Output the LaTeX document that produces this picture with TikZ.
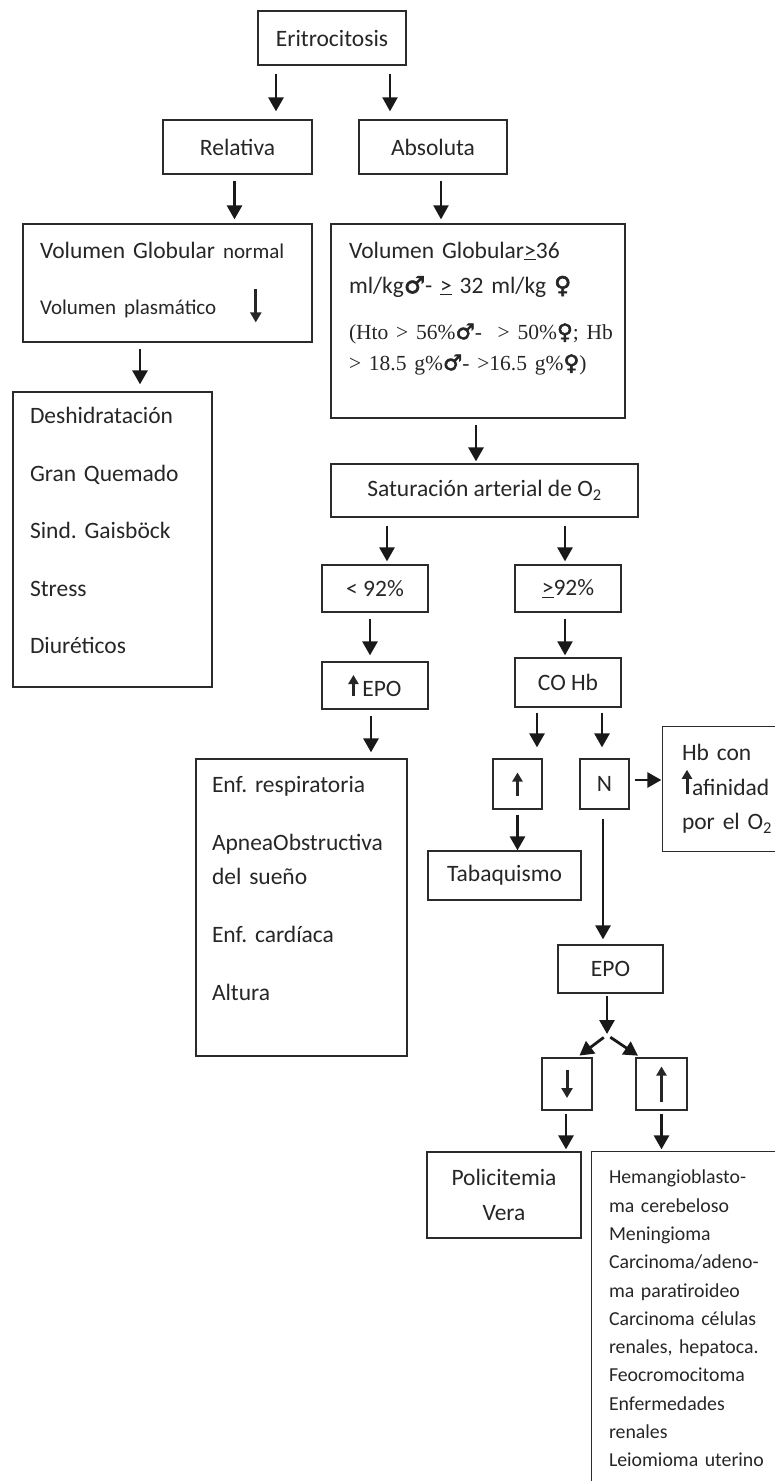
\documentclass[tikz,border=0pt]{standalone}
\usepackage{fontspec}
\setmainfont{Carlito}
\newfontfamily\serifa{Liberation Serif}
\newfontfamily\simbolos{DejaVu Sans}[FakeBold=2.5]
\usetikzlibrary{arrows.meta}
\definecolor{linea}{HTML}{2B2B2B}
\definecolor{texto}{HTML}{262626}
\frenchspacing

\newcommand{\masc}{{\simbolos\bfseries ♂}}
\newcommand{\fem}{{\simbolos\bfseries ♀}}
\newcommand{\mayorigual}{\underline{>}}
\newcommand{\flechasube}[2]{\raisebox{#2}{\tikz\draw[line width=3pt,-{Triangle[width=10pt,length=9pt]}] (0pt,0pt) -- (0pt,#1);}}
\newcommand{\flechabaja}[2]{\raisebox{#2}{\tikz\draw[line width=3pt,-{Triangle[width=11pt,length=10pt]}] (0pt,#1) -- (0pt,0pt);}}

\begin{document}
\begin{tikzpicture}[x=1pt,y=-1pt,
    caja/.style={draw=linea,line width=1.3pt,text=texto,inner sep=0pt,font=\fontsize{23.5}{28}\selectfont},
    borde/.style={draw=linea,line width=1.3pt},
    flecha/.style={draw=black!90,line width=2.8pt,-{Triangle[width=15pt,length=14pt]}}]

    \useasboundingbox (0,0) rectangle (775,1481);

    \node[caja,minimum width=148pt,minimum height=54pt] (erit) at (332,38) {Eritrocitosis};

    \node[caja,minimum width=149pt,minimum height=54pt] (rel) at (237.5,147) {Relativa};
    \node[caja,minimum width=148pt,minimum height=54pt] (abso) at (433,147) {Absoluta};

    \node[caja,minimum width=289pt,minimum height=118pt,text width=255pt,inner xsep=17pt,align=left,
        font=\fontsize{23.5}{56}\selectfont] (vgrel) at (167.5,283)
        {Volumen Globular {\fontsize{21}{21}\selectfont normal}\\{\fontsize{21}{21}\selectfont Volumen plasmático}\hspace{34pt}\flechabaja{33pt}{-9.5pt}};

    \node[caja,minimum width=294pt,minimum height=194pt,text width=258pt,inner xsep=18pt,align=left,
        font=\fontsize{23.5}{31}\selectfont] (vgabs) at (478,321)
        {\mbox{Volumen Globular\mayorigual36}\\[4pt]
         \mbox{ml/kg\masc- \mayorigual\ 32 ml/kg \fem}\\[15pt]
         {\serifa\fontsize{21.5}{31}\selectfont\mbox{(Hto > 56\%\masc-\ \ > 50\%\fem; Hb}}\\
         {\serifa\fontsize{21.5}{31}\selectfont\mbox{> 18.5 g\%\masc- >16.5 g\%\fem)}}\\[-1pt]\mbox{}};

    \node[caja,minimum width=199pt,minimum height=295pt,text width=165pt,inner xsep=17pt,align=left,
        font=\fontsize{23.5}{57.5}\selectfont] (deshi) at (112.5,539.5)
        {Deshidratación\\Gran Quemado\\Sind. Gaisböck\\Stress\\Diuréticos\\[-40pt]\mbox{}};

    \node[caja,minimum width=307pt,minimum height=53pt] (sat) at (484.5,490.5) {Saturación arterial de O\textsubscript{2}};

    \node[caja,minimum width=106pt,minimum height=47pt] (menor) at (375,588.5) {< 92\%};
    \node[caja,minimum width=106pt,minimum height=47pt] (mayor) at (568,588.5) {\mayorigual92\%};

    \node[caja,minimum width=106pt,minimum height=47pt] (epoa) at (375,685.5) {\flechasube{21pt}{-1pt}\,EPO\hspace{18pt}};
    \node[caja,minimum width=106pt,minimum height=49pt] (cohb) at (568,682.5) {CO Hb};

    \node[caja,minimum width=211pt,minimum height=297pt,text width=179pt,inner xsep=16pt,align=left,
        font=\fontsize{23.5}{34}\selectfont] (enf) at (301.5,907.5)
        {Enf. respiratoria\\[24pt]ApneaObstructiva\\del sueño\\[24pt]Enf. cardíaca\\[24pt]Altura\\[5pt]\mbox{}};

    \node[caja,minimum width=49pt,minimum height=50pt] (sube) at (517.5,784) {\flechasube{23pt}{0pt}};
    \node[caja,minimum width=49pt,minimum height=50pt] (nor) at (604.5,784) {N};

    \node[caja,draw=none,minimum width=170pt,minimum height=124pt,text width=132pt,inner xsep=19pt,align=left,
        font=\fontsize{23.5}{34.5}\selectfont] (hbaf) at (748,789)
        {Hb con\\\flechasube{24pt}{0pt}afinidad\\por el O\textsubscript{2}};
    \draw[borde] (hbaf.north east) -- (hbaf.north west) -- (hbaf.south west) -- (hbaf.south east);

    \node[caja,minimum width=153pt,minimum height=49pt] (tabaco) at (504.5,875.5) {Tabaquismo};

    \node[caja,minimum width=105pt,minimum height=48pt] (epob) at (610.5,969) {EPO};
    \coordinate (rama) at (607,1035);

    \node[caja,minimum width=50pt,minimum height=52pt] (baja) at (567,1084) {\flechabaja{28pt}{0pt}};
    \node[caja,minimum width=51pt,minimum height=52pt] (alta) at (661.5,1084) {\flechasube{35pt}{0pt}};

    \node[caja,minimum width=154pt,minimum height=86pt,align=center,
        font=\fontsize{23.5}{35}\selectfont] (pv) at (504,1195) {Policitemia\\Vera};

    \node[caja,draw=none,minimum width=230pt,minimum height=333pt,text width=196pt,inner xsep=17pt,align=left,
        font=\fontsize{19.8}{28.3}\selectfont] (tumores) at (707,1318.5)
        {Hemangioblasto-\\ma cerebeloso\\Meningioma\\Carcinoma/adeno-\\ma paratiroideo\\Carcinoma células\\renales, hepatoca.\\Feocromocitoma\\Enfermedades\\renales\\Leiomioma uterino};
    \draw[borde] (tumores.north east) -- (tumores.north west) -- (tumores.south west);

    \draw[flecha,shorten <=8pt,shorten >=8pt] ([xshift=-56pt]erit.south) -- ([xshift=-56pt]erit.south |- rel.north);
    \draw[flecha,line width=2.2pt,shorten <=8pt,shorten >=8pt] ([xshift=58pt]erit.south) -- ([xshift=58pt]erit.south |- abso.north);
    \draw[flecha,shorten <=6pt,shorten >=4pt] ([xshift=-3pt]rel.south) -- ([xshift=-3pt]rel.south |- vgrel.north);
    \draw[flecha,line width=2.2pt,shorten <=6pt,shorten >=4pt] ([xshift=8pt]abso.south) -- ([xshift=8pt]abso.south |- vgabs.north);
    \draw[flecha,shorten <=6pt,shorten >=7pt] ([xshift=-27.5pt]vgrel.south) -- ([xshift=-27.5pt]vgrel.south |- deshi.north);
    \draw[flecha,shorten <=6pt,shorten >=2pt] ([xshift=-2pt]vgabs.south) -- ([xshift=-2pt]vgabs.south |- sat.north);
    \draw[flecha,shorten <=8pt,shorten >=3pt] ([xshift=-97.5pt]sat.south) -- ([xshift=-97.5pt]sat.south |- menor.north);
    \draw[flecha,shorten <=8pt,shorten >=3pt] ([xshift=80.5pt]sat.south) -- ([xshift=80.5pt]sat.south |- mayor.north);
    \draw[flecha,shorten <=6pt,shorten >=6pt] ([xshift=-5pt]menor.south) -- ([xshift=-5pt]menor.south |- epoa.north);
    \draw[flecha,line width=2.2pt,shorten <=6pt,shorten >=2pt] ([xshift=-3pt]mayor.south) -- ([xshift=-3pt]mayor.south |- cohb.north);
    \draw[flecha,shorten <=6pt,shorten >=6pt] ([xshift=-4pt]epoa.south) -- ([xshift=-4pt]epoa.south |- enf.north);
    \draw[flecha,shorten <=5pt,shorten >=11pt] ([xshift=-31pt]cohb.south) -- ([xshift=-31pt]cohb.south |- sube.north);
    \draw[flecha,shorten <=5pt,shorten >=11pt] ([xshift=34pt]cohb.south) -- ([xshift=34pt]cohb.south |- nor.north);
    \draw[flecha,shorten <=5pt,shorten >=1pt] ([yshift=4pt]nor.east) -- ([yshift=4pt]nor.east -| hbaf.west);
    \draw[flecha,shorten <=5pt] (sube.south) -- (tabaco.north -| sube.south);
    \draw[flecha,shorten <=9pt,shorten >=5pt] ([xshift=-1.5pt]nor.south) -- ([xshift=-1.5pt]nor.south |- epob.north);
    \draw[flecha,shorten <=2pt,shorten >=1pt] ([xshift=-3.5pt]epob.south) -- (rama);
    \draw[flecha,shorten <=4pt,shorten >=3pt] (rama) -- ([xshift=10pt]baja.north);
    \draw[flecha,shorten <=4pt,shorten >=3pt] (rama) -- ([xshift=-21pt]alta.north);
    \draw[flecha,shorten <=3pt,shorten >=2pt] ([xshift=-1pt]baja.south) -- ([xshift=-1pt]baja.south |- pv.north);
    \draw[flecha,shorten <=3pt,shorten >=2pt] (alta.south) -- (alta.south |- tumores.north);

\end{tikzpicture}
\end{document}
